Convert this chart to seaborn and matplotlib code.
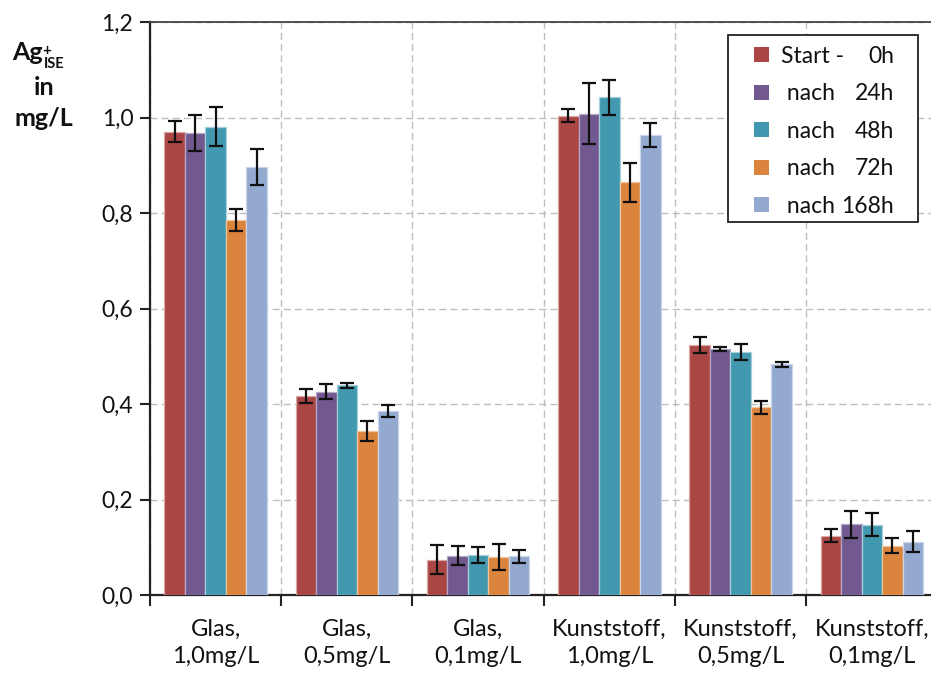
import numpy as np
import pandas as pd
import matplotlib
matplotlib.use("Agg")
import matplotlib.pyplot as plt
import seaborn as sns
from matplotlib.patches import Patch, Rectangle
from matplotlib.legend_handler import HandlerPatch
from matplotlib.ticker import FixedLocator

categories = ["Glas,\n1,0mg/L", "Glas,\n0,5mg/L", "Glas,\n0,1mg/L",
              "Kunststoff,\n1,0mg/L", "Kunststoff,\n0,5mg/L", "Kunststoff,\n0,1mg/L"]
series_prefix = ["Start -", "nach", "nach", "nach", "nach"]
series_hours = ["0h", "24h", "48h", "72h", "168h"]
series = [f"{p} {h}" for p, h in zip(series_prefix, series_hours)]

# mean Ag+ concentration per category, one list per time point
start_0h = [0.970, 0.417, 0.074, 1.004, 0.523, 0.124]
nach_24h = [0.967, 0.426, 0.082, 1.008, 0.515, 0.148]
nach_48h = [0.981, 0.439, 0.084, 1.042, 0.509, 0.147]
nach_72h = [0.786, 0.343, 0.079, 0.864, 0.393, 0.103]
nach_168h = [0.896, 0.385, 0.081, 0.964, 0.483, 0.112]

# standard deviations
err_0h = [0.022, 0.015, 0.030, 0.014, 0.017, 0.014]
err_24h = [0.038, 0.015, 0.020, 0.064, 0.005, 0.028]
err_48h = [0.040, 0.006, 0.016, 0.036, 0.016, 0.024]
err_72h = [0.023, 0.021, 0.027, 0.040, 0.013, 0.016]
err_168h = [0.037, 0.013, 0.014, 0.025, 0.005, 0.021]

y_ticks = [0.0, 0.2, 0.4, 0.6, 0.8, 1.0, 1.2]
y_tick_labels = ["0,0", "0,2", "0,4", "0,6", "0,8", "1,0", "1,2"]

colors = ["#AA4643", "#71588F", "#4198AF", "#DB843D", "#93A9CF"]
edge_colors = ["#D9A9A8", "#B5A8C8", "#A8D0DB", "#F0C49E", "#CBD6EA"]

means = [start_0h, nach_24h, nach_48h, nach_72h, nach_168h]
errs = [err_0h, err_24h, err_48h, err_72h, err_168h]

rows = []
for s, vals, es in zip(series, means, errs):
    for c, v, e in zip(categories, vals, es):
        rows.append({"Probe": c, "Zeit": s, "Wert": v, "Fehler": e})
df = pd.DataFrame(rows)

sns.set_theme(style="white")
plt.rcParams["font.family"] = ["Lato", "DejaVu Sans"]

W, H = 931, 673
fig = plt.figure(figsize=(W / 100, H / 100), dpi=100)
ax = fig.add_axes([150 / W, 78 / H, 787.5 / W, 573 / H])

sns.barplot(data=df, x="Probe", y="Wert", hue="Zeit", order=categories,
            hue_order=series, palette=colors, errorbar=None, width=0.78,
            saturation=1, ax=ax, legend=False, zorder=3)

# error bars at the centre of each bar
for container, s, ec in zip(ax.containers, series, edge_colors):
    sub = df[df["Zeit"] == s].set_index("Probe").loc[categories]
    xs = [p.get_x() + p.get_width() / 2 for p in container.patches]
    for p in container.patches:
        p.set_edgecolor(ec)
        p.set_linewidth(0.9)
    ax.errorbar(xs, sub["Wert"].values, yerr=sub["Fehler"].values, fmt="none",
                ecolor="#111111", elinewidth=1.6, capsize=5, capthick=1.6, zorder=5)

ax.set_xlim(-0.5, 5.5)
ax.set_ylim(0, 1.2)
ax.set_yticks(y_ticks)
ax.set_yticklabels(y_tick_labels, fontsize=16.5, color="#111111")
ax.set_xlabel("")
ax.set_ylabel("")
ax.tick_params(axis="x", which="major", length=0, pad=17, labelsize=17, labelcolor="#111111")
for lab in ax.get_xticklabels():
    lab.set_linespacing(1.4)
ax.xaxis.set_minor_locator(FixedLocator(np.arange(-0.5, 6.0, 1.0)))
ax.tick_params(axis="x", which="minor", direction="out", length=8, width=1.5,
               color="#222222", bottom=True)
ax.tick_params(axis="y", which="major", direction="out", length=7, width=1.5,
               color="#222222", left=True, pad=5)

ax.grid(False)
ax.yaxis.grid(True, which="major", linestyle=(0, (5, 3)), color="#BDBDBD", linewidth=1.0, zorder=0)
ax.xaxis.grid(True, which="minor", linestyle=(0, (5, 3)), color="#BDBDBD", linewidth=1.0, zorder=0)
ax.set_axisbelow(True)

for side in ["left", "bottom"]:
    ax.spines[side].set_visible(True)
    ax.spines[side].set_color("#222222")
    ax.spines[side].set_linewidth(1.6)
ax.spines["top"].set_visible(True)
ax.spines["top"].set_color("#444444")
ax.spines["top"].set_linewidth(1.3)
ax.spines["right"].set_visible(False)

# y axis title
def ftext(x, y, s, size, ha="left"):
    fig.text(x / W, 1 - y / H, s, fontsize=size, fontweight="bold", ha=ha,
             va="baseline", color="#111111")

ftext(12, 60, "Ag", 18)
ftext(42, 55, "+", 11)
ftext(44, 68, "ISE", 10.5)
ftext(44, 95, "in", 18, ha="center")
ftext(44, 126, "mg/L", 18, ha="center")

# legend: square swatch drawn at the right end of the handle box
def square_patch(legend, orig_handle, xdescent, ydescent, width, height, fontsize):
    side = 15 * 72 / 100
    return Rectangle((width - side - xdescent, height / 2 - side / 2 - ydescent), side, side)

handles = [Patch(facecolor=c, edgecolor="none") for c in colors]
leg = fig.legend(handles, series_prefix, loc="upper left",
                 bbox_to_anchor=(728 / W, 1 - 39 / H), fontsize=16.5,
                 frameon=False, handlelength=1.5, handleheight=0.7, handletextpad=0.5,
                 labelspacing=0.72, borderpad=0.3, borderaxespad=0,
                 handler_map={Patch: HandlerPatch(patch_func=square_patch)})
for t, p in zip(leg.get_texts(), series_prefix):
    t.set_color("#111111")
    if p == "nach":
        t.set_text(" nach")
fig.patches.append(Rectangle((728 / W, 1 - 222 / H), 190 / W, 187 / H,
                             transform=fig.transFigure, facecolor="white",
                             edgecolor="#222222", linewidth=1.3, zorder=4))
leg.set_zorder(6)

# hour values right-aligned in a column inside the legend box
fig.canvas.draw()
for t, hrs in zip(leg.get_texts(), series_hours):
    bb = t.get_window_extent()
    ycen = (bb.y0 + bb.y1) / 2
    fig.text(894 / W, ycen / H, hrs, fontsize=16.5, ha="right", va="center",
             color="#111111", zorder=7)

fig.savefig("out.png", dpi=100)
